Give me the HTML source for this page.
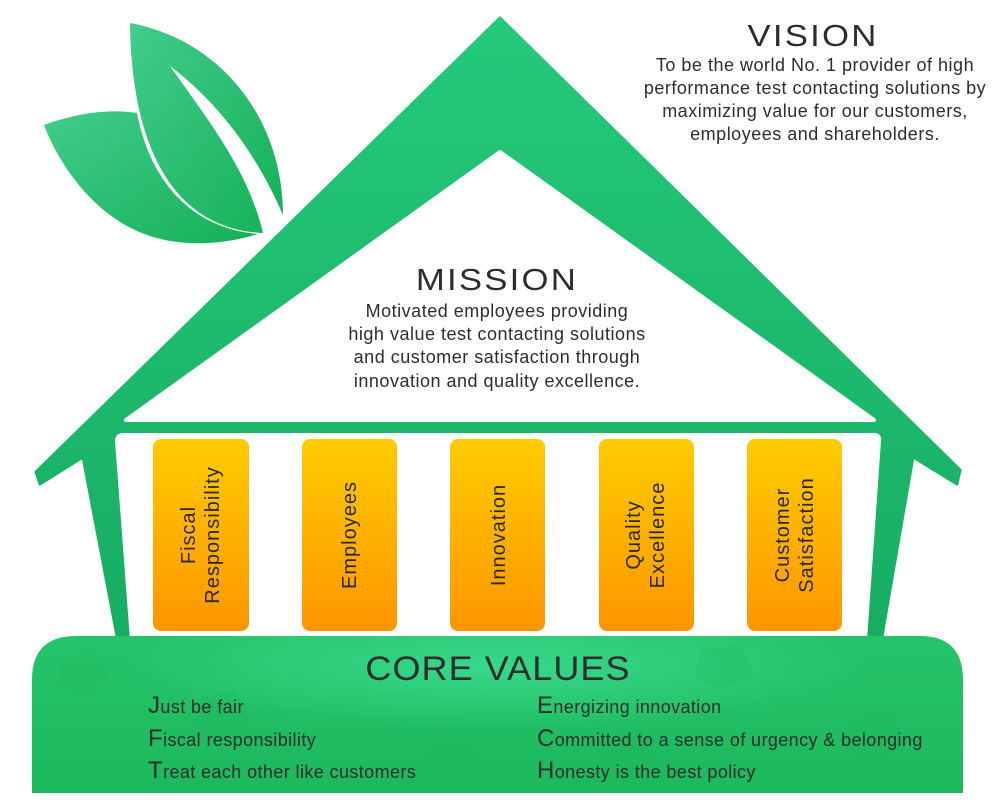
<!DOCTYPE html>
<html><head><meta charset="utf-8"><style>
html,body{margin:0;padding:0;background:#fff;}
body{width:1000px;height:811px;overflow:hidden;position:relative;font-family:"Liberation Sans",sans-serif;}
svg{position:absolute;left:0;top:0;}
</style></head><body>
<svg width="1000" height="811" viewBox="0 0 1000 811" xmlns="http://www.w3.org/2000/svg">
<defs>
<linearGradient id="roof" x1="0" y1="0" x2="0" y2="1">
<stop offset="0" stop-color="#24c97a"/><stop offset="1" stop-color="#17ad62"/></linearGradient>
<linearGradient id="leaf" x1="0" y1="0" x2="1" y2="1">
<stop offset="0" stop-color="#41cc8c"/><stop offset="1" stop-color="#14b057"/></linearGradient>
<linearGradient id="pill" x1="0" y1="0" x2="0" y2="1">
<stop offset="0" stop-color="#ffcc00"/><stop offset="1" stop-color="#ff9500"/></linearGradient>
<linearGradient id="base" x1="0" y1="0" x2="0" y2="1">
<stop offset="0" stop-color="#26c46a"/><stop offset="1" stop-color="#1cb85c"/></linearGradient>
<radialGradient id="glow" cx="0.5" cy="0.2" r="0.4">
<stop offset="0" stop-color="#3ee39a" stop-opacity="0.7"/><stop offset="1" stop-color="#3ee39a" stop-opacity="0"/></radialGradient>
</defs>
<path d="M44,125 C85,110 118,110 137,113 C150,180 190,228 258,234 C220,246 180,246 150,236 C100,220 62,172 44,125 Z" fill="url(#leaf)"/>
<path d="M130,23 C222,40 283,120 283,215 C255,150 215,100 170,66 C208,120 248,170 263,233 C188,230 132,170 130,23 Z" fill="url(#leaf)"/>
<path d="M500,18 L960,470 L957,484 L913,457 L882,636 L117,636 L83,457 L40,484 L36,472 Z" fill="url(#roof)" stroke="url(#roof)" stroke-width="3" stroke-linejoin="round"/>
<path d="M500,152 L874,420 L126,420 Z" fill="#fff" stroke="#fff" stroke-width="4" stroke-linejoin="round"/>
<path d="M124,433 L874,433 Q882,433 881,441 L867,640 L130,640 L115,441 Q115,433 124,433 Z" fill="#fff"/>
<g fill="url(#pill)">
<rect x="153" y="439" width="96" height="192" rx="8"/>
<rect x="302" y="439" width="95" height="192" rx="8"/>
<rect x="450" y="439" width="95" height="192" rx="8"/>
<rect x="599" y="439" width="95" height="192" rx="8"/>
<rect x="747" y="439" width="95" height="192" rx="8"/>
</g>
<g font-family="Liberation Sans, sans-serif" font-size="20" fill="#2a2a2a" text-anchor="middle" letter-spacing="1">
<text transform="translate(201,535) rotate(-90)"><tspan x="0" y="-6">Fiscal</tspan><tspan x="0" y="18">Responsibility</tspan></text>
<text transform="translate(349,535) rotate(-90)" y="7">Employees</text>
<text transform="translate(498,535) rotate(-90)" y="7">Innovation</text>
<text transform="translate(646,535) rotate(-90)"><tspan x="0" y="-6">Quality</tspan><tspan x="0" y="18">Excellence</tspan></text>
<text transform="translate(795,535) rotate(-90)"><tspan x="0" y="-6">Customer</tspan><tspan x="0" y="18">Satisfaction</tspan></text>
</g>
<path d="M32,793 L32,680 Q32,636 76,636 L920,636 Q963,636 963,680 L963,793 Z" fill="url(#base)"/>
<path d="M32,793 L32,680 Q32,636 76,636 L920,636 Q963,636 963,680 L963,793 Z" fill="url(#glow)"/>
<g fill="#1fae58" opacity="0.15">
<polygon points="60,660 90,650 110,675 85,695 58,685"/><polygon points="200,700 235,690 250,720 220,740 195,725"/>
<polygon points="700,650 740,645 755,675 720,690 695,675"/><polygon points="850,720 890,710 905,745 870,760 845,745"/>
<polygon points="430,740 470,735 480,765 445,780 420,765"/><polygon points="600,740 640,728 660,760 625,780 598,765"/>
</g>
<text x="498" y="680" text-anchor="middle" font-family="Liberation Sans, sans-serif" font-size="34" fill="#2d2d2d" letter-spacing="1" transform="translate(498,0) scale(1.06,1) translate(-498,0)">CORE VALUES</text>
<g font-family="Liberation Sans, sans-serif" font-size="18" fill="#2d2d2d" letter-spacing="0.4">
<text x="148" y="713"><tspan font-size="24">J</tspan>ust be fair</text>
<text x="148" y="746"><tspan font-size="24">F</tspan>iscal responsibility</text>
<text x="148" y="778"><tspan font-size="24">T</tspan>reat each other like customers</text>
<text x="537" y="713"><tspan font-size="24">E</tspan>nergizing innovation</text>
<text x="537" y="746"><tspan font-size="24">C</tspan>ommitted to a sense of urgency &amp; belonging</text>
<text x="537" y="778"><tspan font-size="24">H</tspan>onesty is the best policy</text>
</g>
<text x="813" y="46" text-anchor="middle" font-family="Liberation Sans, sans-serif" font-size="31" fill="#2d2d2d" letter-spacing="2" transform="translate(813,0) scale(1.12,1) translate(-813,0)">VISION</text>
<g font-family="Liberation Sans, sans-serif" font-size="18" fill="#2d2d2d" text-anchor="middle" letter-spacing="0.5">
<text x="815" y="71">To be the world No. 1 provider of high</text>
<text x="815" y="94">performance test contacting solutions by</text>
<text x="815" y="117">maximizing value for our customers,</text>
<text x="815" y="140">employees and shareholders.</text>
</g>
<text x="497" y="290" text-anchor="middle" font-family="Liberation Sans, sans-serif" font-size="31" fill="#2d2d2d" letter-spacing="2" transform="translate(497,0) scale(1.12,1) translate(-497,0)">MISSION</text>
<g font-family="Liberation Sans, sans-serif" font-size="18" fill="#2d2d2d" text-anchor="middle" letter-spacing="0.5">
<text x="497" y="317">Motivated employees providing</text>
<text x="497" y="340">high value test contacting solutions</text>
<text x="497" y="363">and customer satisfaction through</text>
<text x="497" y="387">innovation and quality excellence.</text>
</g>
</svg>
</body></html>
